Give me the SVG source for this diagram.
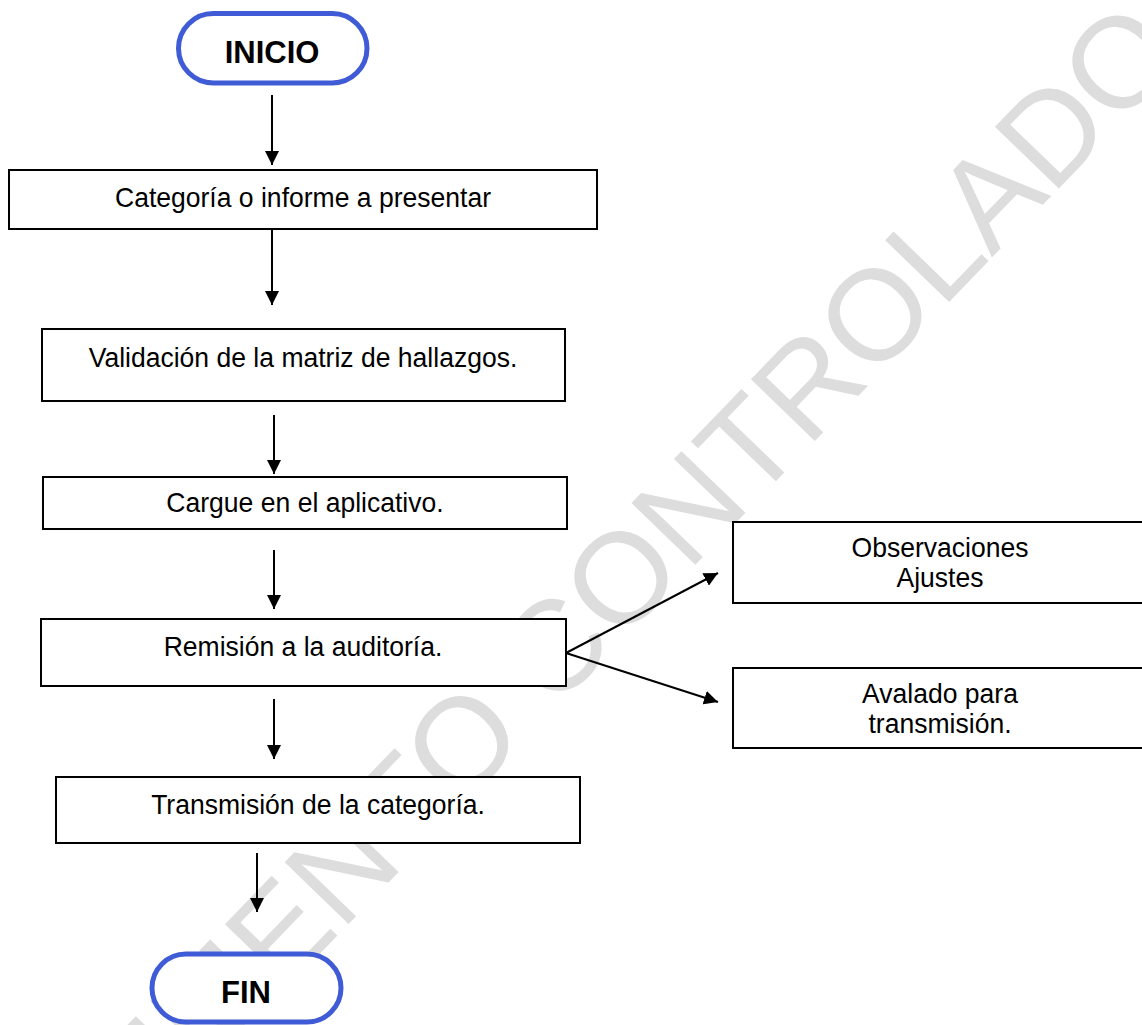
<svg xmlns="http://www.w3.org/2000/svg" width="1142" height="1025" viewBox="0 0 1142 1025">
<defs>
<marker id="ah" markerWidth="14" markerHeight="14" refX="14" refY="7" orient="auto" markerUnits="userSpaceOnUse"><path d="M0,0 L14,7 L0,14 z" fill="#000"/></marker>
<style>
.box{fill:#fff;stroke:#000;stroke-width:2}
.term{fill:#fff;stroke:#3f5bd5;stroke-width:5}
.lbl{font-family:"Liberation Sans",Arial,sans-serif;font-size:27.5px;fill:#000;text-anchor:middle}
.tlbl{font-family:"Liberation Sans",Arial,sans-serif;font-size:31px;font-weight:bold;fill:#000;text-anchor:middle}
.conn{stroke:#000;stroke-width:2;fill:none;marker-end:url(#ah)}
.wm{font-family:"Liberation Sans",Arial,sans-serif;font-size:129px;fill:#dddddd}
</style>
</defs>
<rect width="1142" height="1025" fill="#fff"/>
<g id="watermark"><text class="wm" transform="translate(950,301) rotate(-46) translate(-1449.8,0)">DOCUMENTO CONTROLADO</text></g>
<g id="connectors">
<line class="conn" x1="272" y1="95" x2="272" y2="165"/>
<line class="conn" x1="272" y1="229" x2="272" y2="305"/>
<line class="conn" x1="274" y1="415" x2="274" y2="474"/>
<line class="conn" x1="274" y1="550" x2="274" y2="609"/>
<line class="conn" x1="274" y1="699" x2="274" y2="759"/>
<line class="conn" x1="257" y1="853" x2="257" y2="912"/>
<line class="conn" x1="566" y1="653" x2="718" y2="573"/>
<line class="conn" x1="566" y1="653" x2="718" y2="702"/>
</g>
<g id="inicio"><rect class="term" x="178.5" y="13.5" width="188.5" height="69.5" rx="34.75"/><text class="tlbl" x="272" y="63">INICIO</text></g>
<g id="categoria"><rect class="box" x="9" y="170" width="588" height="59"/><text class="lbl" transform="translate(303 207) scale(0.965 1)">Categoría o informe a presentar</text></g>
<g id="validacion"><rect class="box" x="42" y="329" width="523" height="72"/><text class="lbl" transform="translate(303 367) scale(0.965 1)">Validación de la matriz de hallazgos.</text></g>
<g id="cargue"><rect class="box" x="43" y="477" width="524" height="52"/><text class="lbl" transform="translate(305 512) scale(0.965 1)">Cargue en el aplicativo.</text></g>
<g id="remision"><rect class="box" x="41" y="619" width="525" height="67"/><text class="lbl" transform="translate(303 656) scale(0.965 1)">Remisión a la auditoría.</text></g>
<g id="observaciones"><rect class="box" x="733" y="522" width="420" height="81"/><text class="lbl" transform="translate(940 557) scale(0.965 1)">Observaciones</text><text class="lbl" transform="translate(940 587) scale(0.965 1)">Ajustes</text></g>
<g id="avalado"><rect class="box" x="733" y="668" width="420" height="80"/><text class="lbl" transform="translate(940 703) scale(0.965 1)">Avalado para</text><text class="lbl" transform="translate(940 733) scale(0.965 1)">transmisión.</text></g>
<g id="transmision"><rect class="box" x="56" y="777" width="524" height="66"/><text class="lbl" transform="translate(318 814) scale(0.965 1)">Transmisión de la categoría.</text></g>
<g id="fin"><rect class="term" x="152" y="954" width="189" height="68" rx="34"/><text class="tlbl" x="246" y="1003">FIN</text></g>
</svg>
